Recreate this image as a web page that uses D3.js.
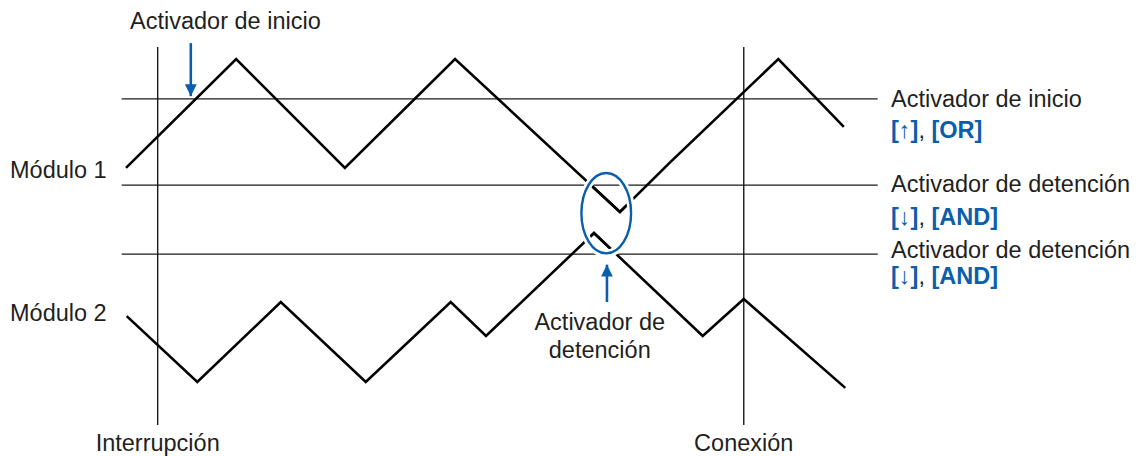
<!DOCTYPE html>
<html>
<head>
<meta charset="utf-8">
<script src="https://cdn.jsdelivr.net/npm/d3@7"></script>
<style>
  body { margin: 0; background: #fff; }
  text { font-family: "Liberation Sans", Arial, sans-serif; }
</style>
</head>
<body>
<div class="trigger-chart"></div>
<script>
// set the dimensions of the picture
const w = 1144
const h = 456
const fs = 23.5

// waveform data: time (0-100) and level (0-100)
const mod1Time = [0, 15.3, 30.4, 45.7, 68.6, 75.6, 90.6, 99.7]
const mod1Level = [67.2, 95.1, 67.2, 95.1, 55.9, 68.7, 95.1, 77.7]
const mod2Time = [0.1, 9.9, 21.5, 33.3, 45.1, 50.0, 65.0, 80.1, 85.8, 99.9]
const mod2Level = [29.2, 12.3, 32.8, 12.3, 32.8, 24.1, 50.5, 24.1, 33.6, 10.8]

// trigger levels (horizontal lines) and their labels
const thresholds = [84.9, 62.8, 45.1]
const thresholdLabels = ["Activador de inicio", "Activador de detención", "Activador de detención"]
const thresholdSlope = ["[↑]", "[↓]", "[↓]"]
const thresholdMode = ["[OR]", "[AND]", "[AND]"]

// event markers (vertical lines)
const markerTimes = [4.4, 85.8]
const markerLabels = ["Interrupción", "Conexión"]

const moduleNames = ["Módulo 1", "Módulo 2"]

const textColor = "#231f20"
const blue = "#0a5eab"

const svg = d3.select(".trigger-chart")
  .append("svg")
    .attr("width", w)
    .attr("height", h)

// scales
const x = d3.scaleLinear().domain([0, 100]).range([126, 846])
const y = d3.scaleLinear().domain([0, 100]).range([430, 40])

// arrow heads
const defs = svg.append("defs")
defs.append("marker")
    .attr("id", "head")
    .attr("viewBox", "0 0 15 19")
    .attr("refX", 15)
    .attr("refY", 7.5)
    .attr("markerUnits", "userSpaceOnUse")
    .attr("markerWidth", 19)
    .attr("markerHeight", 15)
    .attr("orient", "auto")
  .append("path")
    .attr("d", "M0,0 L15,7.5 L0,15 Z")
    .attr("fill", blue)

// horizontal trigger lines
svg.append("g")
  .selectAll("line")
  .data(thresholds)
  .join("line")
    .attr("x1", x(-0.6))
    .attr("x2", x(104.4))
    .attr("y1", d => y(d))
    .attr("y2", d => y(d))
    .attr("stroke", "#1a1a1a")
    .attr("stroke-width", 1.4)

// vertical marker lines
svg.append("g")
  .selectAll("line")
  .data(markerTimes)
  .join("line")
    .attr("x1", d => x(d))
    .attr("x2", d => x(d))
    .attr("y1", y(98.2))
    .attr("y2", y(1.3))
    .attr("stroke", "#1a1a1a")
    .attr("stroke-width", 1.4)

// waveforms
const line = d3.line().x(d => x(d[0])).y(d => y(d[1]))
const waves = [d3.zip(mod1Time, mod1Level), d3.zip(mod2Time, mod2Level)]

svg.append("g")
  .selectAll("path")
  .data(waves)
  .join("path")
    .attr("d", line)
    .attr("fill", "none")
    .attr("stroke", "#000")
    .attr("stroke-width", 2.6)
    .attr("stroke-linejoin", "miter")

// ellipse round the stop trigger point, with a white gap behind it
const ell = { t: 66.7, v: 55.6, rt: 3.45, rv: 10.3 }
const ellG = svg.append("g")
ellG.append("ellipse")
    .attr("cx", x(ell.t))
    .attr("cy", y(ell.v))
    .attr("rx", x(ell.rt) - x(0))
    .attr("ry", y(0) - y(ell.rv))
    .attr("fill", "none")
    .attr("stroke", "#fff")
    .attr("stroke-width", 8)
// redraw the inner parts of the waves so the gap only cuts outside
ellG.append("clipPath")
    .attr("id", "inner")
  .append("ellipse")
    .attr("cx", x(ell.t))
    .attr("cy", y(ell.v))
    .attr("rx", x(ell.rt) - x(0) - 4)
    .attr("ry", y(0) - y(ell.rv) - 4)
ellG.append("g")
    .attr("clip-path", "url(#inner)")
  .selectAll("path")
  .data(waves)
  .join("path")
    .attr("d", line)
    .attr("fill", "none")
    .attr("stroke", "#000")
    .attr("stroke-width", 2.6)
ellG.append("ellipse")
    .attr("cx", x(ell.t))
    .attr("cy", y(ell.v))
    .attr("rx", x(ell.rt) - x(0))
    .attr("ry", y(0) - y(ell.rv))
    .attr("fill", "none")
    .attr("stroke", blue)
    .attr("stroke-width", 2.4)

// arrows: start trigger and stop trigger
const arrows = [
  { t: 9.0, from: 99.2, to: 85.6 },
  { t: 66.8, from: 32.8, to: 42.4 }
]
svg.append("g")
  .selectAll("line")
  .data(arrows)
  .join("line")
    .attr("x1", d => x(d.t))
    .attr("x2", d => x(d.t))
    .attr("y1", d => y(d.from))
    .attr("y2", d => y(d.to))
    .attr("stroke", blue)
    .attr("stroke-width", 2.6)
    .attr("marker-end", "url(#head)")

// labels
svg.append("text")
    .attr("x", 130)
    .attr("y", 29)
    .attr("font-size", fs)
    .attr("fill", textColor)
    .text("Activador de inicio")

const stop = svg.append("text")
    .attr("font-size", fs)
    .attr("fill", textColor)
    .attr("text-anchor", "middle")
stop.append("tspan").attr("x", x(65.8)).attr("y", 330).text("Activador de")
stop.append("tspan").attr("x", x(65.8)).attr("y", 358).text("detención")

svg.append("g")
  .selectAll("text")
  .data(moduleNames)
  .join("text")
    .attr("x", 10)
    .attr("y", (d, i) => [178, 321][i])
    .attr("font-size", fs)
    .attr("fill", textColor)
    .text(d => d)

svg.append("g")
  .selectAll("text")
  .data(markerLabels)
  .join("text")
    .attr("x", (d, i) => x(markerTimes[i]))
    .attr("y", 451)
    .attr("text-anchor", "middle")
    .attr("font-size", fs)
    .attr("fill", textColor)
    .text(d => d)

// right side labels of trigger lines
const labelY = [[107, 138], [192, 225], [258, 284]]
const rl = svg.append("g")
  .selectAll("g")
  .data(thresholds)
  .join("g")

rl.append("text")
    .attr("x", 891)
    .attr("y", (d, i) => labelY[i][0])
    .attr("font-size", fs)
    .attr("fill", textColor)
    .text((d, i) => thresholdLabels[i])

const sub = rl.append("text")
    .attr("x", 891)
    .attr("y", (d, i) => labelY[i][1])
    .attr("font-size", fs)
    .attr("fill", textColor)
sub.append("tspan")
    .attr("fill", blue)
    .attr("font-weight", "bold")
    .text((d, i) => thresholdSlope[i])
sub.append("tspan")
    .text(", ")
sub.append("tspan")
    .attr("fill", blue)
    .attr("font-weight", "bold")
    .text((d, i) => thresholdMode[i])
</script>
</body>
</html>
